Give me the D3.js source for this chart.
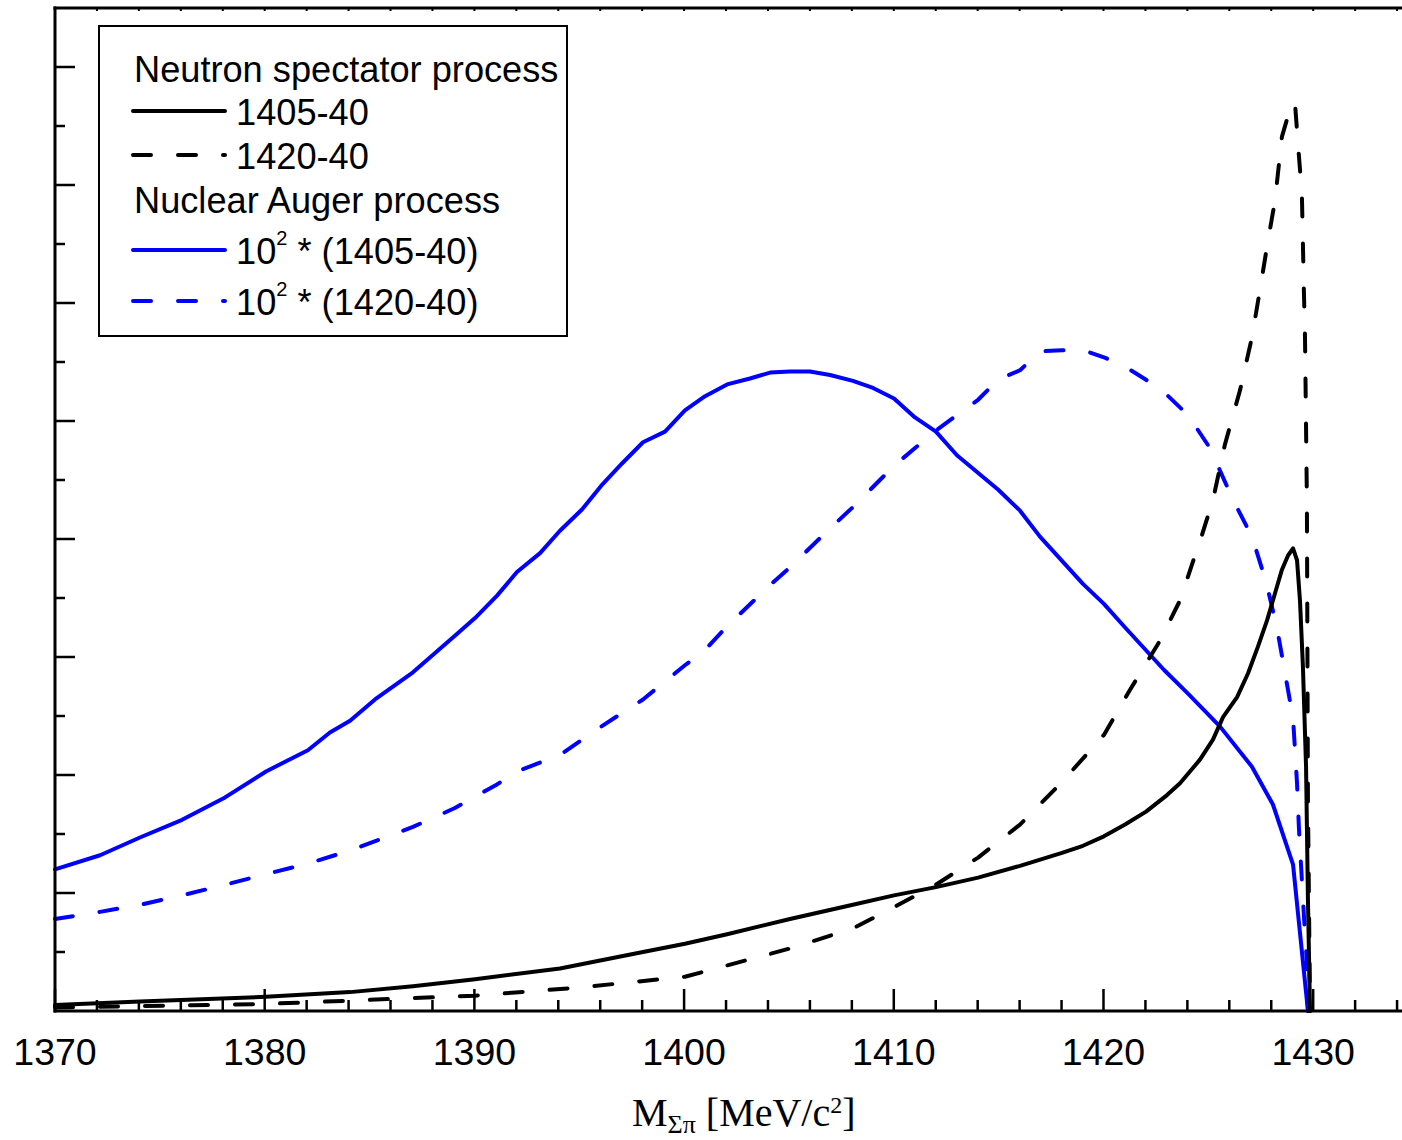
<!DOCTYPE html>
<html>
<head>
<meta charset="utf-8">
<script src="https://cdn.jsdelivr.net/npm/d3@7"></script>
<style>
  body { margin: 0; background: #fff; }
  #chart svg { display: block; }
</style>
</head>
<body>
<div id="chart"></div>
<script>
// Neutron spectator process
var spec1405Mass = [1370, 1374.05, 1380.06, 1384.07, 1387.07, 1390.03, 1394.08, 1398.04, 1400.04, 1402.05, 1405.05, 1408.05, 1410.01, 1412.01, 1414.02, 1416.02, 1418.02, 1419.02, 1420.02, 1421.03, 1422.03, 1423.03, 1423.65, 1424.6, 1425.22, 1425.7, 1426.37, 1426.89, 1427.37, 1427.8, 1428.18, 1428.51, 1428.8, 1429.04, 1429.23, 1429.37, 1429.51, 1429.66, 1429.75, 1429.85]
var spec1405 = [0.05, 0.08, 0.12, 0.16, 0.21, 0.27, 0.36, 0.50, 0.57, 0.65, 0.78, 0.90, 0.98, 1.05, 1.13, 1.23, 1.34, 1.40, 1.48, 1.58, 1.69, 1.83, 1.93, 2.13, 2.30, 2.49, 2.66, 2.86, 3.09, 3.31, 3.54, 3.74, 3.86, 3.92, 3.82, 3.48, 2.92, 2.07, 0.94, 0]

var spec1420Mass = [1370, 1380.06, 1390.03, 1395.04, 1400.04, 1405.05, 1408.05, 1410.01, 1412.01, 1414.02, 1416.02, 1418.02, 1420.02, 1421.26, 1422.7, 1423.65, 1424.27, 1424.6, 1425.22, 1425.79, 1426.51, 1427.08, 1427.46, 1427.8, 1428.18, 1428.51, 1428.89, 1429.13, 1429.27, 1429.46, 1429.56, 1429.61, 1429.70, 1429.75, 1429.85]
var spec1420 = [0.03, 0.06, 0.13, 0.20, 0.29, 0.53, 0.70, 0.88, 1.07, 1.30, 1.58, 1.94, 2.34, 2.72, 3.14, 3.48, 3.81, 3.98, 4.33, 4.80, 5.26, 5.71, 6.11, 6.48, 6.87, 7.41, 7.64, 7.70, 7.36, 6.93, 6.08, 5.71, 4.33, 1.79, 0]

// Nuclear Auger process (x 10^2)
var auger1405Mass = [1370, 1372.15, 1374.05, 1376.06, 1378.11, 1380.06, 1382.06, 1383.11, 1384.07, 1385.26, 1387.07, 1389.07, 1390.03, 1391.08, 1392.03, 1393.13, 1394.08, 1395.13, 1396.04, 1397.04, 1398.04, 1399.09, 1400.04, 1401, 1402.05, 1403.14, 1404.1, 1405.05, 1406, 1406.96, 1408.05, 1409.01, 1410.01, 1411.01, 1412.01, 1413.01, 1414.97, 1416.02, 1416.97, 1419.02, 1420.02, 1421.03, 1422.89, 1424.03, 1425.56, 1427.08, 1428.08, 1429.04, 1429.75]
var auger1405 = [1.20, 1.32, 1.47, 1.62, 1.81, 2.03, 2.21, 2.36, 2.46, 2.64, 2.87, 3.18, 3.33, 3.52, 3.72, 3.88, 4.07, 4.25, 4.45, 4.64, 4.82, 4.91, 5.09, 5.21, 5.31, 5.36, 5.41, 5.42, 5.42, 5.39, 5.34, 5.28, 5.19, 5.03, 4.91, 4.71, 4.42, 4.24, 4.02, 3.62, 3.45, 3.25, 2.89, 2.69, 2.41, 2.07, 1.75, 1.24, 0]

var auger1420Mass = [1370, 1372.15, 1374.05, 1376.06, 1378.11, 1380.06, 1382.06, 1384.07, 1387.07, 1389.07, 1391.08, 1392.03, 1394.08, 1396.04, 1398.04, 1400.04, 1401, 1402.05, 1404.1, 1405.05, 1406.96, 1408.05, 1410.01, 1412.01, 1414.02, 1414.97, 1416.02, 1416.97, 1418.02, 1419.02, 1420.02, 1421.03, 1422.03, 1423.03, 1424.03, 1425.08, 1426.18, 1427.08, 1427.75, 1428.27, 1428.66, 1429.04, 1429.23, 1429.32, 1429.56, 1429.70, 1429.75]
var auger1420 = [0.78, 0.84, 0.90, 0.98, 1.07, 1.16, 1.25, 1.36, 1.56, 1.72, 1.92, 2.03, 2.17, 2.41, 2.64, 2.93, 3.06, 3.26, 3.61, 3.76, 4.09, 4.27, 4.62, 4.92, 5.18, 5.35, 5.43, 5.59, 5.60, 5.60, 5.54, 5.46, 5.35, 5.22, 5.05, 4.77, 4.33, 4.02, 3.64, 3.25, 2.86, 2.48, 1.93, 1.55, 0.80, 0.41, 0]

var xTickLabels = [1370, 1380, 1390, 1400, 1410, 1420, 1430]
var xDomain = [1370, 1434.14]
var yDomain = [0, 8.5]

var legendRows = [
    { label: 'Neutron spectator process' },
    { label: '1405-40', color: '#000', dash: null },
    { label: '1420-40', color: '#000', dash: '18,27' },
    { label: 'Nuclear Auger process' },
    { label: '1405-40', pow: true, color: '#0000ff', dash: null },
    { label: '1420-40', pow: true, color: '#0000ff', dash: '18,27' }
]

var width = 1402,
    height = 1140,
    margin = { top: 8, right: 2, bottom: 129, left: 55 }

var svg = d3.select('#chart').append('svg')
    .attr('width', width)
    .attr('height', height)
    .style('background', '#fff')

var x = d3.scaleLinear().domain(xDomain).range([margin.left, width - margin.right])
var y = d3.scaleLinear().domain(yDomain).range([height - margin.bottom, margin.top])

var line = d3.line()
    .x(d => x(d[0]))
    .y(d => y(d[1]))

var series = [
    { mass: auger1405Mass, vals: auger1405, color: '#0000ff', dash: null },
    { mass: auger1420Mass, vals: auger1420, color: '#0000ff', dash: '18,27' },
    { mass: spec1420Mass, vals: spec1420, color: '#000', dash: '18,27' },
    { mass: spec1405Mass, vals: spec1405, color: '#000', dash: null }
]

svg.append('g').selectAll('path')
    .data(series)
    .enter().append('path')
    .attr('d', s => line(s.mass.map((m, i) => [m, s.vals[i]])))
    .attr('fill', 'none')
    .attr('stroke', s => s.color)
    .attr('stroke-width', 4)
    .attr('stroke-linecap', 'round')
    .attr('stroke-linejoin', 'round')
    .attr('stroke-dasharray', s => s.dash)

// bottom axis: minor every 2, major every 10
var minorX = d3.range(1370, 1435, 2)
var gx = svg.append('g')
    .attr('transform', `translate(0, ${y(0)})`)

gx.append('line')
    .attr('x1', margin.left - 1.5).attr('x2', width)
    .attr('stroke', '#000').attr('stroke-width', 3)
gx.selectAll('.tick')
    .data(minorX)
    .enter().append('line')
    .attr('x1', d => x(d)).attr('x2', d => x(d))
    .attr('y1', 0)
    .attr('y2', d => d % 10 === 0 ? -22 : -11)
    .attr('stroke', '#000').attr('stroke-width', 2.5)
gx.selectAll('text')
    .data(xTickLabels)
    .enter().append('text')
    .attr('x', d => x(d))
    .attr('y', 54)
    .attr('text-anchor', 'middle')
    .style('font-family', 'Liberation Sans, Arial, sans-serif')
    .style('font-size', '37.5px')
    .text(d => d)

// top axis with tiny ticks
var gt = svg.append('g').attr('transform', `translate(0, ${y(yDomain[1])})`)
gt.append('line')
    .attr('x1', margin.left - 1.5).attr('x2', width)
    .attr('stroke', '#000').attr('stroke-width', 3)
gt.selectAll('.tk')
    .data(minorX)
    .enter().append('line')
    .attr('x1', d => x(d)).attr('x2', d => x(d))
    .attr('y1', 0).attr('y2', 3)
    .attr('stroke', '#000').attr('stroke-width', 2)

// left axis, no labels
var minorY = d3.range(0.5, 8.5, 0.5)
var gy = svg.append('g').attr('transform', `translate(${x(xDomain[0])}, 0)`)
gy.append('line')
    .attr('y1', y(yDomain[1]) - 1.5).attr('y2', y(0) + 1.5)
    .attr('stroke', '#000').attr('stroke-width', 3)
gy.selectAll('.tk')
    .data(minorY)
    .enter().append('line')
    .attr('y1', d => y(d)).attr('y2', d => y(d))
    .attr('x1', 0)
    .attr('x2', d => d % 1 === 0 ? 20 : 10)
    .attr('stroke', '#000').attr('stroke-width', 2.5)

// axis title
var title = svg.append('text')
    .attr('x', 632)
    .attr('y', 1126)
    .style('font-family', 'Liberation Serif, Times New Roman, serif')
    .style('font-size', '40px')
title.append('tspan').text('M')
title.append('tspan').attr('dy', 7).style('font-size', '26px').text('Σπ')
title.append('tspan').attr('dy', -7).text(' [MeV/c')
title.append('tspan').attr('dy', -13).style('font-size', '24px').text('2')
title.append('tspan').attr('dy', 13).text(']')

// legend
var legend = svg.append('g')
legend.append('rect')
    .attr('x', 99).attr('y', 26)
    .attr('width', 468).attr('height', 310)
    .attr('fill', '#fff')
    .attr('stroke', '#000').attr('stroke-width', 2)

var rowY = [69, 112, 156, 200, 251, 302]

legendRows.forEach(function (r, i) {
    var cy = rowY[i]
    if (r.color === undefined) {
        legend.append('text')
            .attr('x', 134).attr('y', cy + 12.5)
            .style('font-family', 'Liberation Sans, Arial, sans-serif')
            .style('font-size', '36.2px')
            .text(r.label)
        return
    }
    legend.append('line')
        .attr('x1', 133).attr('x2', 225)
        .attr('y1', cy - 1).attr('y2', cy - 1)
        .attr('stroke', r.color)
        .attr('stroke-width', 4)
        .attr('stroke-linecap', 'round')
        .attr('stroke-dasharray', r.dash)
    var t = legend.append('text')
        .attr('x', 236).attr('y', cy + 12.5)
        .style('font-family', 'Liberation Sans, Arial, sans-serif')
        .style('font-size', '36.2px')
    if (r.pow) {
        t.append('tspan').text('10')
        t.append('tspan').attr('dy', -19).style('font-size', '20px').text('2')
        t.append('tspan').attr('dy', 19).text(' * (' + r.label + ')')
    } else {
        t.text(r.label)
    }
})
</script>
</body>
</html>
